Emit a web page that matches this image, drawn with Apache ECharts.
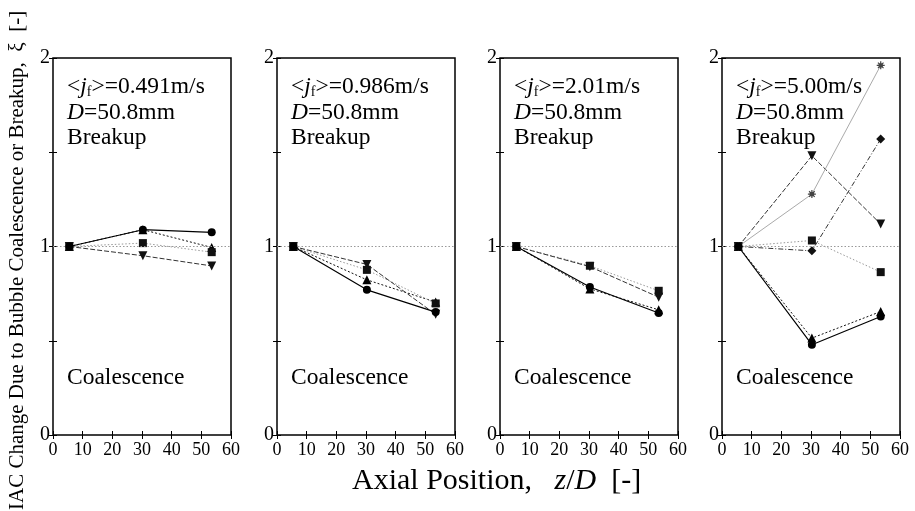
<!DOCTYPE html>
<html><head><meta charset="utf-8">
<script src="https://cdn.jsdelivr.net/npm/echarts@6/dist/echarts.min.js"></script>
<style>html,body{margin:0;padding:0;background:#fff}#c{width:915px;height:511px}</style>
</head><body><div id="c"></div>
<script>
// ---- data ----
const zPos = [5.5, 30.3, 53.5];
const xTicks = [0, 10, 20, 30, 40, 50, 60];
const yTickLabels = ['0', '1', '2'];
const velocities = ['0.491', '0.986', '2.01', '5.00'];
const diameter = '50.8';
// panel 1 (<jf>=0.491 m/s)
const p1Circle = [1, 1.089, 1.075];
const p1TriUp = [1, 1.089, 0.995];
const p1Square = [1, 1.018, 0.970];
const p1TriDown = [1, 0.951, 0.897];
// panel 2 (<jf>=0.986 m/s)
const p2Circle = [1, 0.770, 0.652];
const p2TriUp = [1, 0.823, 0.705];
const p2Square = [1, 0.876, 0.698];
const p2TriDown = [1, 0.905, 0.640];
// panel 3 (<jf>=2.01 m/s)
const p3Circle = [1, 0.785, 0.647];
const p3TriUp = [1, 0.775, 0.664];
const p3Square = [1, 0.898, 0.765];
const p3TriDown = [1, 0.893, 0.731];
// panel 4 (<jf>=5.00 m/s)
const p4Circle = [1, 0.479, 0.629];
const p4TriUp = [1, 0.514, 0.655];
const p4Square = [1, 1.032, 0.864];
const p4TriDown = [1, 1.481, 1.119];
const p4Diamond = [1, 0.977, 1.570];
const p4Star = [1, 1.278, 1.961];

const panels = [
  {circle: p1Circle, triUp: p1TriUp, square: p1Square, triDown: p1TriDown},
  {circle: p2Circle, triUp: p2TriUp, square: p2Square, triDown: p2TriDown},
  {circle: p3Circle, triUp: p3TriUp, square: p3Square, triDown: p3TriDown},
  {circle: p4Circle, triUp: p4TriUp, square: p4Square, triDown: p4TriDown, diamond: p4Diamond, star: p4Star}
];

// ---- styles ----
const FONT = '"Liberation Serif", "DejaVu Serif", serif';
const lefts = [53, 277, 500, 722];
const W = 178, TOP = 58, H = 377;
const FS = 23.5;
const starPath = 'path://M0,-10L0,10M-10,0L10,0M-7,-7L7,7M-7,7L7,-7M-4,-4L4,-4L4,4L-4,4Z';
const styles = {
  circle:  {symbol: 'circle', size: 8, rot: 0, color: '#000', type: 'solid', width: 1.2},
  triUp:   {symbol: 'triangle', size: 9, rot: 0, color: '#111', type: [2, 2], width: 1},
  square:  {symbol: 'rect', size: 8, rot: 0, color: '#999', type: [1.5, 2], width: 1},
  triDown: {symbol: 'triangle', size: 9, rot: 180, color: '#333', type: [5, 2], width: 1},
  diamond: {symbol: 'diamond', size: 9, rot: 0, color: '#333', type: [5, 2, 1, 2], width: 1},
  star:    {symbol: starPath, size: 8, rot: 0, color: '#aaa', type: 'solid', width: 1}
};
const markColor = {circle:'#000', triUp:'#000', square:'#111', triDown:'#111', diamond:'#111', star:'#555'};

const grid = [], xAxis = [], yAxis = [], series = [], graphic = [];
panels.forEach((p, i) => {
  grid.push({left: lefts[i], top: TOP, width: W, height: H, show: true, borderColor: '#000', borderWidth: 1.5, backgroundColor: 'transparent'});
  const xBase = {gridIndex: i, type: 'value', min: xTicks[0], max: xTicks[xTicks.length - 1], interval: 10,
    axisLine: {show: false}, splitLine: {show: false},
    axisTick: {inside: true, length: 4, lineStyle: {color: '#000', width: 1}}};
  xAxis.push(Object.assign({}, xBase, {position: 'bottom',
    axisLabel: {color: '#000', fontFamily: FONT, fontSize: 18, margin: 6}}));
  xAxis.push(Object.assign({}, xBase, {position: 'top', axisLabel: {show: false}}));
  const yBase = {gridIndex: i, type: 'value', min: 0, max: 2, interval: 0.5,
    axisLine: {show: false}, splitLine: {show: false},
    axisTick: {inside: true, length: 4, lineStyle: {color: '#000', width: 1}}};
  yAxis.push(Object.assign({}, yBase, {position: 'left',
    axisLabel: {color: '#000', fontFamily: FONT, fontSize: 20, margin: 3,
      formatter: v => (Number.isInteger(v) ? yTickLabels[v] : '')}}));
  yAxis.push(Object.assign({}, yBase, {position: 'right', axisLabel: {show: false}}));

  let first = true;
  Object.keys(p).forEach(k => {
    const s = styles[k];
    const ser = {
      type: 'line', xAxisIndex: 2 * i, yAxisIndex: 2 * i,
      data: zPos.map((z, j) => [z, p[k][j]]),
      symbol: s.symbol, symbolSize: s.size, symbolRotate: s.rot,
      lineStyle: {color: s.color, type: s.type, width: s.width},
      itemStyle: {color: markColor[k], borderColor: markColor[k], borderWidth: 0},
      z: k === 'circle' ? 5 : 3, animation: false
    };
    if (k === 'star') ser.itemStyle = {color: '#fff', borderColor: '#444', borderWidth: 1.2};
    if (first) {
      ser.markLine = {silent: true, symbol: 'none', label: {show: false},
        lineStyle: {color: '#999', type: [1.5, 2], width: 1}, data: [{yAxis: 1}]};
      first = false;
    }
    series.push(ser);
  });

  const tx = lefts[i] + 14;
  graphic.push({type: 'text', left: tx, top: 75, z: 10, style: {
    text: '{n|<}{i|j}{s|f}{n|>=' + velocities[i] + 'm/s}',
    rich: {
      n: {fontFamily: FONT, fontSize: FS, fill: '#000', lineHeight: 25},
      i: {fontFamily: FONT, fontSize: FS, fontStyle: 'italic', fill: '#000', lineHeight: 25},
      s: {fontFamily: FONT, fontSize: 14, fill: '#000', lineHeight: 14, verticalAlign: 'bottom'}
    }}});
  graphic.push({type: 'text', left: tx, top: 101, z: 10, style: {
    text: '{i|D}{n|=' + diameter + 'mm}',
    rich: {
      n: {fontFamily: FONT, fontSize: FS, fill: '#000'},
      i: {fontFamily: FONT, fontSize: FS, fontStyle: 'italic', fill: '#000'}
    }}});
  graphic.push({type: 'text', left: tx, top: 126, z: 10, style: {
    text: 'Breakup', fontFamily: FONT, fontSize: FS, fill: '#000'}});
  graphic.push({type: 'text', left: tx, top: 366, z: 10, style: {
    text: 'Coalescence', fontFamily: FONT, fontSize: FS, fill: '#000'}});
});

graphic.push({type: 'text', left: 352, top: 466, style: {
  text: '{n|Axial Position,   }{i|z}{n|/}{i|D}{n|  [-]}',
  rich: {
    n: {fontFamily: FONT, fontSize: 30, fill: '#000'},
    i: {fontFamily: FONT, fontSize: 30, fontStyle: 'italic', fill: '#000'}
  }}});
graphic.push({type: 'text', x: 7, y: 510, rotation: Math.PI / 2, style: {
  text: 'IAC Change Due to Bubble Coalescence or Breakup,  ξ  [-]',
  fontFamily: FONT, fontSize: 21, fill: '#000', align: 'left', verticalAlign: 'top'}});

const chart = echarts.init(document.getElementById('c'), null, {renderer: 'canvas'});
chart.setOption({backgroundColor: '#fff', animation: false, grid, xAxis, yAxis, series, graphic});
</script></body></html>
